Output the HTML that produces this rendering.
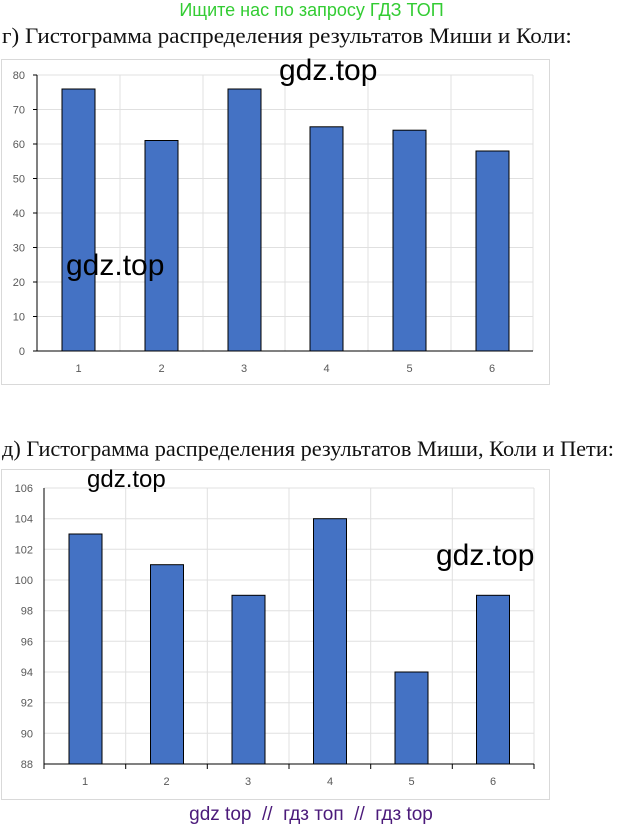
<!DOCTYPE html>
<html><head><meta charset="utf-8"><style>
body{margin:0;width:623px;height:828px;background:#fff;position:relative;overflow:hidden;font-family:"Liberation Sans",sans-serif}
.t{position:absolute;white-space:nowrap}
</style></head><body>
<div class="t" style="left:0;width:623px;text-align:center;top:0px;font-size:18px;color:#33cc33">Ищите нас по запросу ГДЗ ТОП</div>
<div class="t" style="left:2px;top:23px;font-family:'Liberation Serif',serif;font-size:22px;color:#111;transform:scaleX(1.05);transform-origin:0 0">г) Гистограмма распределения результатов Миши и Коли:</div>
<div class="t" style="left:2px;top:436px;font-family:'Liberation Serif',serif;font-size:22px;color:#111;transform:scaleX(1.015);transform-origin:0 0">д) Гистограмма распределения результатов Миши, Коли и Пети:</div>
<svg class="t" style="left:0;top:0" width="623" height="828" font-family="Liberation Sans, sans-serif">
<g id="c1">
<rect x="1.5" y="59.5" width="548" height="325" fill="none" stroke="#d9d9d9"/>
<g stroke="#e0e0e0">
<line x1="37" x2="533" y1="75" y2="75"/><line x1="37" x2="533" y1="109.5" y2="109.5"/><line x1="37" x2="533" y1="144" y2="144"/><line x1="37" x2="533" y1="178.5" y2="178.5"/><line x1="37" x2="533" y1="213" y2="213"/><line x1="37" x2="533" y1="247.5" y2="247.5"/><line x1="37" x2="533" y1="282" y2="282"/><line x1="37" x2="533" y1="316.5" y2="316.5"/>
<line x1="120" x2="120" y1="75" y2="351"/><line x1="203" x2="203" y1="75" y2="351"/><line x1="285" x2="285" y1="75" y2="351"/><line x1="368" x2="368" y1="75" y2="351"/><line x1="451" x2="451" y1="75" y2="351"/><line x1="533" x2="533" y1="75" y2="351"/>
</g>
<g fill="#4472c4" stroke="#000" stroke-width="1">
<rect x="62" y="89" width="33" height="262"/><rect x="145" y="140.5" width="33" height="210.5"/><rect x="228" y="89" width="33" height="262"/><rect x="310" y="126.8" width="33" height="224.2"/><rect x="393" y="130.2" width="33" height="220.8"/><rect x="476" y="151" width="33" height="200"/>
</g>
<g stroke="#000"><line x1="37" x2="37" y1="75" y2="351"/><line x1="37" x2="533" y1="351" y2="351"/>
<line x1="33" x2="37" y1="75" y2="75"/><line x1="33" x2="37" y1="109.5" y2="109.5"/><line x1="33" x2="37" y1="144" y2="144"/><line x1="33" x2="37" y1="178.5" y2="178.5"/><line x1="33" x2="37" y1="213" y2="213"/><line x1="33" x2="37" y1="247.5" y2="247.5"/><line x1="33" x2="37" y1="282" y2="282"/><line x1="33" x2="37" y1="316.5" y2="316.5"/><line x1="33" x2="37" y1="351" y2="351"/></g>
<g font-size="11" fill="#595959" text-anchor="end"><text x="25" y="79">80</text><text x="25" y="113.5">70</text><text x="25" y="148">60</text><text x="25" y="182.5">50</text><text x="25" y="217">40</text><text x="25" y="251.5">30</text><text x="25" y="286">20</text><text x="25" y="320.5">10</text><text x="25" y="355">0</text></g>
<g font-size="11" fill="#595959" text-anchor="middle"><text x="78.5" y="372">1</text><text x="161.5" y="372">2</text><text x="244" y="372">3</text><text x="326.5" y="372">4</text><text x="409.5" y="372">5</text><text x="492" y="372">6</text></g>
</g>
<g id="c2">
<rect x="1.5" y="469.5" width="548" height="330" fill="none" stroke="#d9d9d9"/>
<g stroke="#e0e0e0">
<line x1="44" x2="534" y1="488" y2="488"/><line x1="44" x2="534" y1="518.7" y2="518.7"/><line x1="44" x2="534" y1="549.3" y2="549.3"/><line x1="44" x2="534" y1="580" y2="580"/><line x1="44" x2="534" y1="610.7" y2="610.7"/><line x1="44" x2="534" y1="641.3" y2="641.3"/><line x1="44" x2="534" y1="672" y2="672"/><line x1="44" x2="534" y1="702.7" y2="702.7"/><line x1="44" x2="534" y1="733.3" y2="733.3"/>
<line x1="125.7" x2="125.7" y1="488" y2="764"/><line x1="207.3" x2="207.3" y1="488" y2="764"/><line x1="289" x2="289" y1="488" y2="764"/><line x1="370.7" x2="370.7" y1="488" y2="764"/><line x1="452.3" x2="452.3" y1="488" y2="764"/><line x1="534" x2="534" y1="488" y2="764"/>
</g>
<g fill="#4472c4" stroke="#000">
<rect x="69" y="534" width="33" height="230"/><rect x="150.5" y="564.7" width="33" height="199.3"/><rect x="232" y="595.3" width="33" height="168.7"/><rect x="313.5" y="518.7" width="33" height="245.3"/><rect x="395" y="672" width="33" height="92"/><rect x="476.5" y="595.3" width="33" height="168.7"/>
</g>
<g stroke="#000"><line x1="44" x2="44" y1="488" y2="764"/><line x1="44" x2="534" y1="764" y2="764"/>
<line x1="44" x2="44" y1="764" y2="769"/><line x1="125.7" x2="125.7" y1="764" y2="769"/><line x1="207.3" x2="207.3" y1="764" y2="769"/><line x1="289" x2="289" y1="764" y2="769"/><line x1="370.7" x2="370.7" y1="764" y2="769"/><line x1="452.3" x2="452.3" y1="764" y2="769"/><line x1="534" x2="534" y1="764" y2="769"/></g>
<g font-size="11" fill="#595959" text-anchor="end"><text x="33" y="492">106</text><text x="33" y="522.7">104</text><text x="33" y="553.3">102</text><text x="33" y="584">100</text><text x="33" y="614.7">98</text><text x="33" y="645.3">96</text><text x="33" y="676">94</text><text x="33" y="706.7">92</text><text x="33" y="737.3">90</text><text x="33" y="768">88</text></g>
<g font-size="11" fill="#595959" text-anchor="middle"><text x="85" y="785">1</text><text x="166.5" y="785">2</text><text x="248" y="785">3</text><text x="330" y="785">4</text><text x="411.5" y="785">5</text><text x="493" y="785">6</text></g>
</g>
<g fill="#000"><text x="279" y="80" font-size="30">gdz.top</text><text x="66" y="275" font-size="30">gdz.top</text><text x="87" y="487" font-size="24">gdz.top</text><text x="436" y="565" font-size="30">gdz.top</text></g>
<text x="311" y="820" font-size="19" fill="#4b1a7a" text-anchor="middle" xml:space="preserve">gdz top  //  гдз топ  //  гдз top</text>
</svg>
</body></html>
